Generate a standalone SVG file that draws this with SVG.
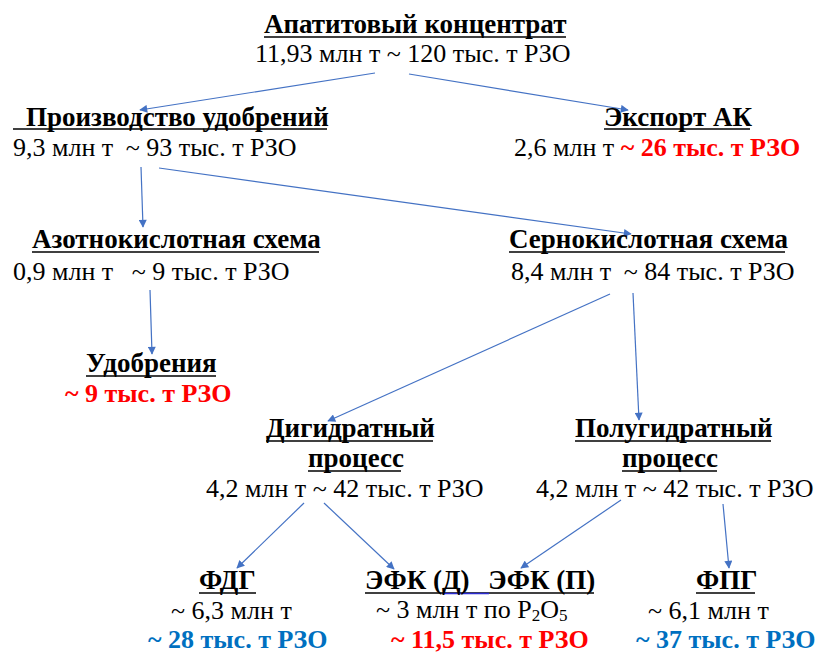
<svg xmlns="http://www.w3.org/2000/svg" width="818" height="653" viewBox="0 0 818 653">
<defs>
<marker id="ah" viewBox="0 0 10 10" refX="9" refY="5" markerWidth="9" markerHeight="8" markerUnits="userSpaceOnUse" orient="auto">
<path d="M0,0 L10,5 L0,10 z" fill="#4472C4"/>
</marker>
</defs>
<rect width="818" height="653" fill="#fff"/>
<g id="connectors" stroke="#4472C4" stroke-width="1.2" fill="none" marker-end="url(#ah)">
<line x1="375" y1="73" x2="140" y2="110"/>
<line x1="409" y1="74" x2="628" y2="110"/>
<line x1="141" y1="167" x2="143" y2="227"/>
<line x1="159" y1="168" x2="631" y2="234"/>
<line x1="150" y1="290" x2="152" y2="354"/>
<line x1="610" y1="294" x2="328" y2="421"/>
<line x1="633" y1="293" x2="639" y2="420"/>
<line x1="304" y1="503" x2="237" y2="568"/>
<line x1="324" y1="503" x2="394" y2="569"/>
<line x1="621" y1="500" x2="521" y2="568"/>
<line x1="723" y1="504" x2="729" y2="568"/>
</g>
<g id="underlines" stroke="#000" stroke-width="1.6">
<line x1="264" y1="37" x2="566" y2="37"/>
<line x1="13" y1="129" x2="327" y2="129"/>
<line x1="604" y1="129" x2="750" y2="129"/>
<line x1="32" y1="252" x2="319" y2="252"/>
<line x1="509" y1="252" x2="785" y2="252"/>
<line x1="86" y1="376" x2="216" y2="376"/>
<line x1="266" y1="441" x2="433" y2="441"/>
<line x1="308" y1="471" x2="401" y2="471"/>
<line x1="575" y1="441" x2="771" y2="441"/>
<line x1="622" y1="471" x2="717" y2="471"/>
<line x1="199" y1="593" x2="256" y2="593"/>
<line x1="365" y1="593" x2="594" y2="593"/>
<line x1="696" y1="593" x2="755" y2="593"/>
<line x1="442" y1="593.5" x2="489" y2="593.5" stroke="#2b2bd0"/>
</g>
<g id="apatite">
<text x="264" y="33" font-family="Liberation Serif" font-size="27" font-weight="bold">Апатитовый концентрат</text>
<text x="255" y="62" font-family="Liberation Serif" font-size="26">11,93 млн т ~ 120 тыс. т РЗО</text>
</g>
<g id="fertilizer-production">
<text x="26" y="126" font-family="Liberation Serif" font-size="27" font-weight="bold">Производство удобрений</text>
<text x="13" y="156" font-family="Liberation Serif" font-size="26">9,3 млн т <tspan dx="6">~ 93 тыс. т РЗО</tspan></text>
</g>
<g id="export">
<text x="604" y="126" font-family="Liberation Serif" font-size="27" font-weight="bold">Экспорт АК</text>
<text x="514" y="156" font-family="Liberation Serif" font-size="26">2,6 млн т <tspan fill="#FF0000" font-weight="bold">~ 26 тыс. т РЗО</tspan></text>
</g>
<g id="nitric">
<text x="32" y="248" font-family="Liberation Serif" font-size="27" font-weight="bold">Азотнокислотная схема</text>
<text x="13" y="280" font-family="Liberation Serif" font-size="26">0,9 млн т <tspan dx="12">~ 9 тыс. т РЗО</tspan></text>
</g>
<g id="sulfuric">
<text x="509" y="248" font-family="Liberation Serif" font-size="27" font-weight="bold">Сернокислотная схема</text>
<text x="511" y="280" font-family="Liberation Serif" font-size="26">8,4 млн т <tspan dx="6">~ 84 тыс. т РЗО</tspan></text>
</g>
<g id="fertilizers">
<text x="86" y="372" font-family="Liberation Serif" font-size="27" font-weight="bold">Удобрения</text>
<text x="65" y="402" font-family="Liberation Serif" font-size="26" font-weight="bold" fill="#FF0000">~ 9 тыс. т РЗО</text>
</g>
<g id="dihydrate">
<text x="266" y="437" font-family="Liberation Serif" font-size="27" font-weight="bold">Дигидратный</text>
<text x="308" y="467" font-family="Liberation Serif" font-size="27" font-weight="bold">процесс</text>
<text x="206" y="497" font-family="Liberation Serif" font-size="26">4,2 млн т ~ 42 тыс. т РЗО</text>
</g>
<g id="hemihydrate">
<text x="575" y="437" font-family="Liberation Serif" font-size="27" font-weight="bold">Полугидратный</text>
<text x="622" y="467" font-family="Liberation Serif" font-size="27" font-weight="bold">процесс</text>
<text x="536" y="497" font-family="Liberation Serif" font-size="26">4,2 млн т ~ 42 тыс. т РЗО</text>
</g>
<g id="fdg">
<text x="199" y="589" font-family="Liberation Serif" font-size="27" font-weight="bold">ФДГ</text>
<text x="171" y="619" font-family="Liberation Serif" font-size="26">~ 6,3 млн т</text>
<text x="148" y="648" font-family="Liberation Serif" font-size="26" font-weight="bold" fill="#0070C0">~ 28 тыс. т РЗО</text>
</g>
<g id="efk">
<text x="365" y="589" font-family="Liberation Serif" font-size="27" font-weight="bold">ЭФК (Д) <tspan dx="12">ЭФК (П)</tspan></text>
<text x="376" y="618" font-family="Liberation Serif" font-size="26">~ 3 млн т по P<tspan font-size="17" dy="3">2</tspan><tspan dy="-3">O</tspan><tspan font-size="17" dy="3">5</tspan></text>
<text x="391" y="648" font-family="Liberation Serif" font-size="26" font-weight="bold" fill="#FF0000">~ 11,5 тыс. т РЗО</text>
</g>
<g id="fpg">
<text x="696" y="589" font-family="Liberation Serif" font-size="27" font-weight="bold">ФПГ</text>
<text x="648" y="619" font-family="Liberation Serif" font-size="26">~ 6,1 млн т</text>
<text x="636" y="648" font-family="Liberation Serif" font-size="26" font-weight="bold" fill="#0070C0">~ 37 тыс. т РЗО</text>
</g>
</svg>
